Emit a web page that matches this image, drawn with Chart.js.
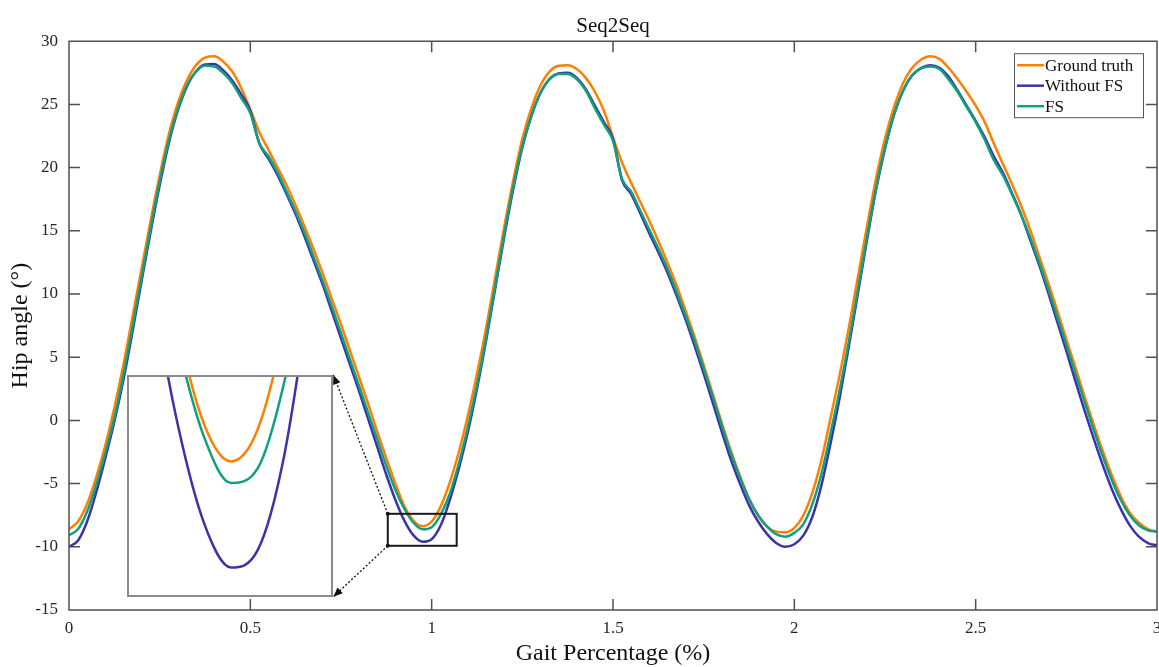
<!DOCTYPE html>
<html>
<head>
<meta charset="utf-8">
<script src="https://cdn.jsdelivr.net/npm/chart.js@4.4.0/dist/chart.umd.min.js"></script>
<style>
  html, body { margin: 0; padding: 0; background: #fff; }
  #wrap { position: relative; width: 1159px; height: 667px; }
  #main { display: block; }
  #inset { position: absolute; box-sizing: border-box; border: 2px solid #8a8a8a; background: #fff; }
  #zoom { display: block; }
</style>
</head>
<body>
<div id="wrap">
  <canvas id="main" width="1159" height="667"></canvas>
  <div id="inset"><canvas id="zoom"></canvas></div>
</div>
<script>
// gait percentage samples (x axis)
var gaitPct = [
  0, 0.025, 0.05, 0.075, 0.1, 0.125, 0.15, 0.175, 0.2, 0.225,
  0.25, 0.275, 0.3, 0.325, 0.35, 0.375, 0.4, 0.425, 0.45, 0.475,
  0.5, 0.525, 0.55, 0.575, 0.6, 0.625, 0.65, 0.675, 0.7, 0.725,
  0.75, 0.775, 0.8, 0.825, 0.85, 0.875, 0.9, 0.925, 0.95, 0.975,
  1, 1.025, 1.05, 1.075, 1.1, 1.125, 1.15, 1.175, 1.2, 1.225,
  1.25, 1.275, 1.3, 1.325, 1.35, 1.375, 1.4, 1.425, 1.45, 1.475,
  1.5, 1.525, 1.55, 1.575, 1.6, 1.625, 1.65, 1.675, 1.7, 1.725,
  1.75, 1.775, 1.8, 1.825, 1.85, 1.875, 1.9, 1.925, 1.95, 1.975,
  2, 2.025, 2.05, 2.075, 2.1, 2.125, 2.15, 2.175, 2.2, 2.225,
  2.25, 2.275, 2.3, 2.325, 2.35, 2.375, 2.4, 2.425, 2.45, 2.475,
  2.5, 2.525, 2.55, 2.575, 2.6, 2.625, 2.65, 2.675, 2.7, 2.725,
  2.75, 2.775, 2.8, 2.825, 2.85, 2.875, 2.9, 2.925, 2.95, 2.975,
  3
];

var groundTruth = [
  -8.6, -8.0, -6.6, -4.5, -2.0, 1.0, 4.4, 8.2, 12.0, 15.8,
  19.4, 22.6, 25.1, 26.9, 28.1, 28.7, 28.8, 28.4, 27.6, 26.3,
  24.6, 22.8, 21.4, 20.0, 18.6, 17.0, 15.3, 13.5, 11.6, 9.6,
  7.6, 5.5, 3.4, 1.3, -0.9, -3.0, -5.0, -6.8, -7.95, -8.37,
  -8.0, -6.8, -4.9, -2.5, 0.4, 3.7, 7.3, 11.3, 15.3, 19.0,
  22.3, 24.7, 26.5, 27.6, 28.05, 28.1, 27.8, 27.1, 26.0, 24.5,
  22.4, 20.4, 18.8, 17.3, 15.8, 14.2, 12.5, 10.7, 8.7, 6.6,
  4.4, 2.1, -0.2, -2.4, -4.4, -6.2, -7.5, -8.4, -8.8, -8.85,
  -8.5, -7.5, -5.7, -3.1, 0.2, 3.6, 7.3, 11.3, 15.3, 19.1,
  22.3, 24.8, 26.7, 27.9, 28.55, 28.8, 28.6, 27.9, 27.0, 26.0,
  24.9, 23.6, 21.9, 20.3, 18.7, 17.0, 15.1, 13.0, 10.9, 8.7,
  6.4, 4.2, 1.9, -0.3, -2.4, -4.3, -6.0, -7.3, -8.1, -8.6,
  -8.8
];

var withoutFS = [
  -10.0, -9.5, -8.0, -5.7, -3.0, -0.1, 3.2, 7.0, 11.0, 14.9,
  18.6, 21.9, 24.5, 26.4, 27.6, 28.15, 28.2, 27.7, 26.9, 25.8,
  24.5, 21.9, 20.7, 19.4, 17.9, 16.3, 14.5, 12.6, 10.7, 8.6,
  6.5, 4.4, 2.3, 0.1, -2.1, -4.3, -6.3, -7.95, -9.1, -9.6,
  -9.4, -8.3, -6.3, -3.8, -0.9, 2.5, 6.3, 10.4, 14.5, 18.3,
  21.6, 24.1, 25.9, 27.0, 27.45, 27.5, 27.1, 26.2, 24.9, 23.6,
  22.3, 19.0, 17.9, 16.4, 14.8, 13.3, 11.7, 9.9, 8.0, 5.9,
  3.7, 1.4, -0.9, -3.1, -5.0, -6.7, -8.0, -9.0, -9.7, -10.0,
  -9.8, -9.1, -7.6, -5.1, -1.8, 1.8, 5.8, 10.0, 14.2, 18.2,
  21.5, 24.2, 26.1, 27.3, 27.9, 28.1, 27.9, 27.2, 26.1, 24.9,
  23.7, 22.4, 20.9, 19.6, 18.0, 16.3, 14.3, 12.3, 10.1, 7.8,
  5.5, 3.1, 0.8, -1.4, -3.5, -5.4, -7.0, -8.3, -9.2, -9.7,
  -9.9
];

var withFS = [
  -9.1, -8.6, -7.2, -5.1, -2.6, 0.2, 3.6, 7.4, 11.3, 15.2,
  18.9, 22.1, 24.6, 26.5, 27.6, 28.05, 28.0, 27.5, 26.7, 25.5,
  24.3, 21.9, 20.9, 19.6, 18.1, 16.5, 14.8, 12.9, 11.0, 9.0,
  6.9, 4.8, 2.7, 0.6, -1.5, -3.6, -5.5, -7.0, -8.1, -8.62,
  -8.45, -7.45, -5.8, -3.4, -0.5, 2.8, 6.5, 10.6, 14.7, 18.5,
  21.7, 24.1, 25.9, 27.0, 27.4, 27.4, 27.0, 26.1, 24.7, 23.4,
  22.1, 19.1, 18.1, 16.6, 15.1, 13.6, 12.0, 10.2, 8.3, 6.3,
  4.1, 1.9, -0.4, -2.6, -4.5, -6.2, -7.5, -8.4, -9.0, -9.2,
  -8.9, -8.2, -6.6, -4.2, -1.0, 2.4, 6.2, 10.3, 14.4, 18.3,
  21.6, 24.2, 26.1, 27.3, 27.85, 28.0, 27.8, 27.0, 26.0, 24.8,
  23.6, 22.2, 20.6, 19.4, 17.9, 16.3, 14.5, 12.5, 10.4, 8.2,
  6.0, 3.7, 1.5, -0.7, -2.8, -4.7, -6.3, -7.5, -8.3, -8.7,
  -8.8
];

// zoomed window (data units) and where its magnified copy sits (main axes units)
var zoomX = [0.879, 1.069], zoomY = [-9.92, -7.39];
var insetX = [0.16, 0.729], insetY = [-13.95, 3.59];

Chart.defaults.font.family = "'Liberation Serif', 'Times New Roman', serif";
Chart.defaults.color = '#262626';

var lines = [
  { label: 'Ground truth', values: groundTruth, color: '#ff8000', order: 2 },
  { label: 'Without FS', values: withoutFS, color: '#3b34a8', order: 1 },
  { label: 'FS', values: withFS, color: '#10a07f', order: 0 }
];

function makeDatasets() {
  return lines.map(function (l) {
    return {
      label: l.label,
      data: gaitPct.map(function (x, i) { return { x: x, y: l.values[i] }; }),
      borderColor: l.color,
      backgroundColor: l.color,
      borderWidth: 2.5,
      pointRadius: 0,
      cubicInterpolationMode: 'monotone',
      order: l.order,
      clip: 0
    };
  });
}

function arrow(ctx, x0, y0, x1, y1) {
  ctx.save();
  ctx.strokeStyle = '#111';
  ctx.fillStyle = '#111';
  ctx.lineWidth = 1.3;
  ctx.setLineDash([2, 2]);
  ctx.beginPath();
  ctx.moveTo(x0, y0);
  ctx.lineTo(x1, y1);
  ctx.stroke();
  ctx.setLineDash([]);
  ctx.beginPath();
  ctx.arc(x0, y0, 2, 0, Math.PI * 2);
  ctx.fill();
  var ang = Math.atan2(y1 - y0, x1 - x0), L = 10, W = 0.4;
  ctx.beginPath();
  ctx.moveTo(x1, y1);
  ctx.lineTo(x1 - L * Math.cos(ang - W), y1 - L * Math.sin(ang - W));
  ctx.lineTo(x1 - L * Math.cos(ang + W), y1 - L * Math.sin(ang + W));
  ctx.closePath();
  ctx.fill();
  ctx.restore();
}

// matlab-like box with inward ticks, zoom box and connectors
var framePlugin = {
  id: 'frame',
  afterDatasetsDraw: function (chart) {
    var ctx = chart.ctx, a = chart.chartArea, x = chart.scales.x, y = chart.scales.y;
    ctx.save();
    ctx.strokeStyle = '#505050';
    ctx.lineWidth = 1.5;
    ctx.beginPath();
    ctx.rect(a.left, a.top, a.right - a.left, a.bottom - a.top);
    x.ticks.forEach(function (t) {
      var px = x.getPixelForValue(t.value);
      ctx.moveTo(px, a.bottom); ctx.lineTo(px, a.bottom - 11);
      ctx.moveTo(px, a.top); ctx.lineTo(px, a.top + 11);
    });
    y.ticks.forEach(function (t) {
      var py = y.getPixelForValue(t.value);
      ctx.moveTo(a.left, py); ctx.lineTo(a.left + 11, py);
      ctx.moveTo(a.right, py); ctx.lineTo(a.right - 11, py);
    });
    ctx.stroke();

    var bx0 = x.getPixelForValue(zoomX[0]), bx1 = x.getPixelForValue(zoomX[1]);
    var by0 = y.getPixelForValue(zoomY[1]), by1 = y.getPixelForValue(zoomY[0]);
    ctx.strokeStyle = '#1a1a1a';
    ctx.lineWidth = 2;
    ctx.strokeRect(bx0, by0, bx1 - bx0, by1 - by0);

    var ix = x.getPixelForValue(insetX[1]);
    arrow(ctx, bx0, by0, ix, y.getPixelForValue(insetY[1]));
    arrow(ctx, bx0, by1, ix, y.getPixelForValue(insetY[0]));
    ctx.restore();
  }
};

var legendPlugin = {
  id: 'boxLegend',
  afterDraw: function (chart) {
    var ctx = chart.ctx, a = chart.chartArea;
    var left = a.right - 143, top = a.top + 12, w = 129, h = 64;
    ctx.save();
    ctx.fillStyle = '#fff';
    ctx.fillRect(left, top, w, h);
    ctx.strokeStyle = '#555';
    ctx.lineWidth = 1;
    ctx.strokeRect(left + 0.5, top + 0.5, w, h);
    ctx.font = "17px 'Liberation Serif'";
    ctx.textBaseline = 'middle';
    chart.data.datasets.forEach(function (ds, i) {
      var cy = top + 12 + i * 20.5;
      ctx.strokeStyle = ds.borderColor;
      ctx.lineWidth = 2.5;
      ctx.beginPath();
      ctx.moveTo(left + 3, cy);
      ctx.lineTo(left + 30, cy);
      ctx.stroke();
      ctx.fillStyle = '#111';
      ctx.fillText(ds.label, left + 31, cy + 1);
    });
    ctx.restore();
  }
};

var mainChart = new Chart(document.getElementById('main'), {
  type: 'line',
  data: { datasets: makeDatasets() },
  options: {
    responsive: false,
    animation: false,
    events: [],
    layout: { padding: { right: 2 } },
    plugins: {
      legend: { display: false },
      tooltip: { enabled: false },
      title: {
        display: true, text: 'Seq2Seq', color: '#111', fullSize: false,
        font: { size: 21, weight: 'normal' },
        padding: { top: 14, bottom: 2 }
      }
    },
    scales: {
      x: {
        type: 'linear', min: 0, max: 3,
        grid: { display: false, drawTicks: false },
        border: { display: false },
        ticks: {
          stepSize: 0.5, padding: 8, font: { size: 17 }, color: '#262626',
          callback: function (v) { return String(Math.round(v * 10) / 10); }
        },
        title: {
          display: true, text: 'Gait Percentage (%)', color: '#111',
          font: { size: 24, lineHeight: 1 }, padding: { top: 0, bottom: 1 }
        },
        afterFit: function (s) { s.height = 57; s.paddingLeft = 0; s.paddingRight = 0; }
      },
      y: {
        min: -15, max: 30,
        grid: { display: false, drawTicks: false },
        border: { display: false },
        ticks: { stepSize: 5, padding: 11, font: { size: 17 }, color: '#262626' },
        title: {
          display: true, text: 'Hip angle (°)', color: '#111',
          font: { size: 24, lineHeight: 1 }, padding: { top: 9, bottom: 0 }
        },
        afterFit: function (s) { s.width = 69; s.paddingTop = 0; s.paddingBottom = 0; }
      }
    }
  },
  plugins: [framePlugin, legendPlugin]
});

// magnified inset, placed through the main chart's scales
var sx = mainChart.scales.x, sy = mainChart.scales.y;
var L = sx.getPixelForValue(insetX[0]), R = sx.getPixelForValue(insetX[1]);
var T = sy.getPixelForValue(insetY[1]), B = sy.getPixelForValue(insetY[0]);
var box = document.getElementById('inset');
box.style.left = L + 'px';
box.style.top = T + 'px';
box.style.width = (R - L) + 'px';
box.style.height = (B - T) + 'px';
var zc = document.getElementById('zoom');
zc.width = Math.round(R - L - 4);
zc.height = Math.round(B - T - 4);

new Chart(zc, {
  type: 'line',
  data: { datasets: makeDatasets() },
  options: {
    responsive: false,
    animation: false,
    events: [],
    layout: { padding: 0 },
    plugins: { legend: { display: false }, tooltip: { enabled: false } },
    scales: {
      x: { type: 'linear', display: false, min: zoomX[0], max: zoomX[1] },
      y: { display: false, min: zoomY[0], max: zoomY[1] }
    }
  }
});
</script>
</body>
</html>
